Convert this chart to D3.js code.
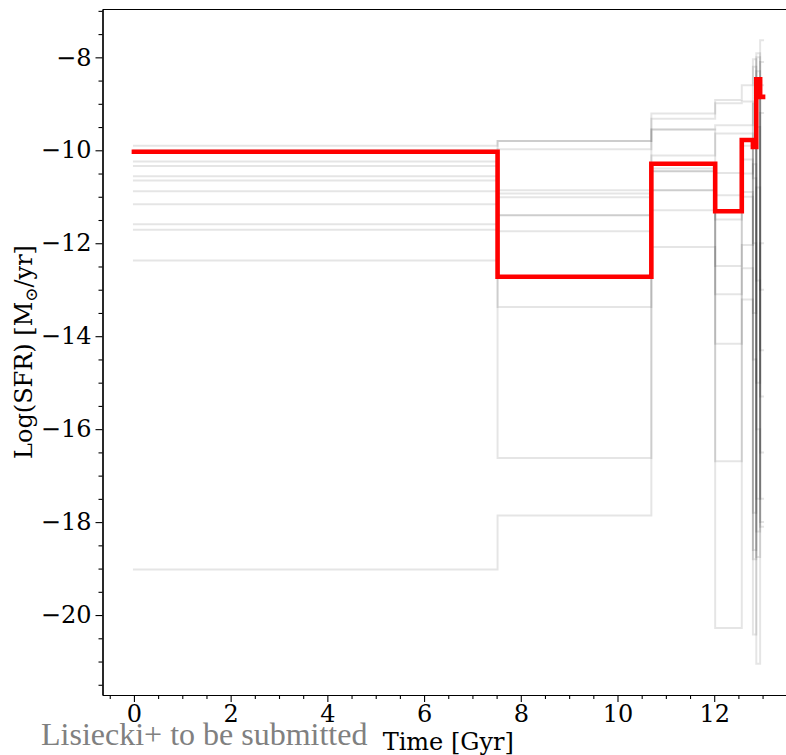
<!DOCTYPE html>
<html>
<head>
<meta charset="utf-8">
<script src="https://cdn.jsdelivr.net/npm/d3@7"></script>
<style>
  html, body { margin: 0; padding: 0; background: #fff; }
  svg { display: block; }
</style>
</head>
<body>
<svg id="chart" width="786" height="755"></svg>
<script>
// ---- data ----
const binEdges = [0, 7.52, 10.70, 12.02, 12.57, 12.80, 12.87, 12.95, 13.01];
const bestSFR = [-10.03, -12.72, -10.29, -11.31, -9.78, -9.93, -8.47, -8.85];
const sampleSFR = [
  [-9.90, -9.80, -9.21, -8.92, -8.60, -8.04, -18.20, -7.63],
  [-10.00, -9.80, -9.32, -8.99, -8.95, -13.50, -7.91, -17.50],
  [-10.24, -9.98, -9.55, -9.46, -9.46, -9.00, -18.75, -8.10],
  [-10.34, -10.86, -10.11, -9.64, -9.64, -17.80, -8.30, -16.50],
  [-10.56, -10.93, -10.39, -10.49, -10.50, -10.30, -15.00, -8.60],
  [-10.65, -11.01, -10.45, -10.97, -10.90, -18.60, -9.50, -18.00],
  [-10.88, -11.40, -10.86, -11.49, -11.00, -12.00, -17.50, -9.20],
  [-11.16, -11.40, -10.86, -12.49, -12.04, -8.20, -12.80, -13.00],
  [-11.59, -11.74, -11.29, -13.10, -12.54, -18.80, -8.00, -14.30],
  [-11.71, -13.37, -10.45, -14.16, -13.21, -20.42, -10.80, -15.30],
  [-12.37, -16.62, -9.55, -16.69, -10.20, -14.50, -16.00, -18.10],
  [-19.02, -17.86, -12.08, -20.28, -9.90, -10.60, -21.05, -12.00]
];
const xTicks = [0, 2, 4, 6, 8, 10, 12];
const yTicks = [-20, -18, -16, -14, -12, -10, -8];
const xLabel = "Time [Gyr]";
const watermark = "Lisiecki+ to be submitted";

// ---- layout ----
const svg = d3.select("#chart");
const padL = 102.5, padR = 794, padT = 9, padB = 695;
const x = d3.scaleLinear().domain([-0.65, 13.65]).range([padL, padR]);
const y = d3.scaleLinear().domain([-21.72, -6.96]).range([padB, padT]);
const serif = "'DejaVu Serif', serif";

function stepPoints(vals) {
  return binEdges.map((e, i) => [e, vals[Math.min(i, vals.length - 1)]]);
}
const line = d3.line().x(d => x(d[0])).y(d => y(d[1])).curve(d3.curveStepAfter);

const plot = svg.append("g");
plot.selectAll("path.sample").data(sampleSFR).join("path")
  .attr("class", "sample")
  .attr("d", d => line(stepPoints(d)))
  .attr("fill", "none")
  .attr("stroke", "#000")
  .attr("stroke-opacity", 0.1)
  .attr("stroke-width", 2)
  .attr("stroke-linecap", "square");

plot.append("path")
  .attr("d", line(stepPoints(bestSFR)))
  .attr("fill", "none")
  .attr("stroke", "#ff0000")
  .attr("stroke-width", 4.6)
  .attr("stroke-linejoin", "miter")
  .attr("stroke-linecap", "square");

// ---- axes ----
const seq = (a, b, s) => d3.range(a, b + s / 2, s);
const xMinor = seq(-0.5, 13.5, 0.5).filter(v => !xTicks.includes(v));
const yMinor = seq(-21.5, -7, 0.5).filter(v => !yTicks.includes(v));

function styleAxis(g) {
  g.selectAll("path.domain").attr("stroke", "#000").attr("stroke-width", 1.2);
  g.selectAll(".tick line").attr("stroke", "#000").attr("stroke-width", 1.1);
  g.selectAll(".tick text").attr("font-family", serif).attr("font-size", 24).attr("fill", "#000");
}

svg.append("g").attr("transform", `translate(0,${padB})`)
  .call(d3.axisBottom(x).tickValues(xMinor).tickSize(4).tickSizeOuter(0).tickFormat(""))
  .call(styleAxis);
svg.append("g").attr("transform", `translate(${padL},0)`)
  .call(d3.axisLeft(y).tickValues(yMinor).tickSize(4).tickSizeOuter(0).tickFormat(""))
  .call(styleAxis);

const fmt = v => (v < 0 ? "\u2212" + Math.abs(v) : String(v));
svg.append("g").attr("transform", `translate(0,${padB})`)
  .call(d3.axisBottom(x).tickValues(xTicks).tickSize(7).tickSizeOuter(0).tickPadding(3).tickFormat(fmt))
  .call(styleAxis);
svg.append("g").attr("transform", `translate(${padL},0)`)
  .call(d3.axisLeft(y).tickValues(yTicks).tickSize(7).tickSizeOuter(0).tickPadding(4).tickFormat(fmt))
  .call(styleAxis);
svg.append("g").attr("transform", `translate(0,${padT})`)
  .call(d3.axisTop(x).tickValues([]).tickSizeOuter(0))
  .call(styleAxis);

// ---- labels ----
svg.append("text")
  .attr("x", (padL + padR) / 2).attr("y", 750)
  .attr("text-anchor", "middle")
  .attr("font-family", serif).attr("font-size", 24).attr("fill", "#000")
  .text(xLabel);

const yl = svg.append("text")
  .attr("transform", `translate(32,${(padT + padB) / 2}) rotate(-90)`)
  .attr("text-anchor", "middle")
  .attr("font-family", serif).attr("font-size", 24).attr("fill", "#000");
yl.append("tspan").text("Log(SFR) [M");
yl.append("tspan").attr("font-size", 17).attr("dy", 5).text("\u2299");
yl.append("tspan").attr("dy", -5).text("/yr]");

svg.append("text")
  .attr("x", 41).attr("y", 745)
  .attr("font-family", "'Liberation Serif', 'Times New Roman', serif")
  .attr("font-size", 32).attr("fill", "#808080")
  .text(watermark);
</script>
</body>
</html>
